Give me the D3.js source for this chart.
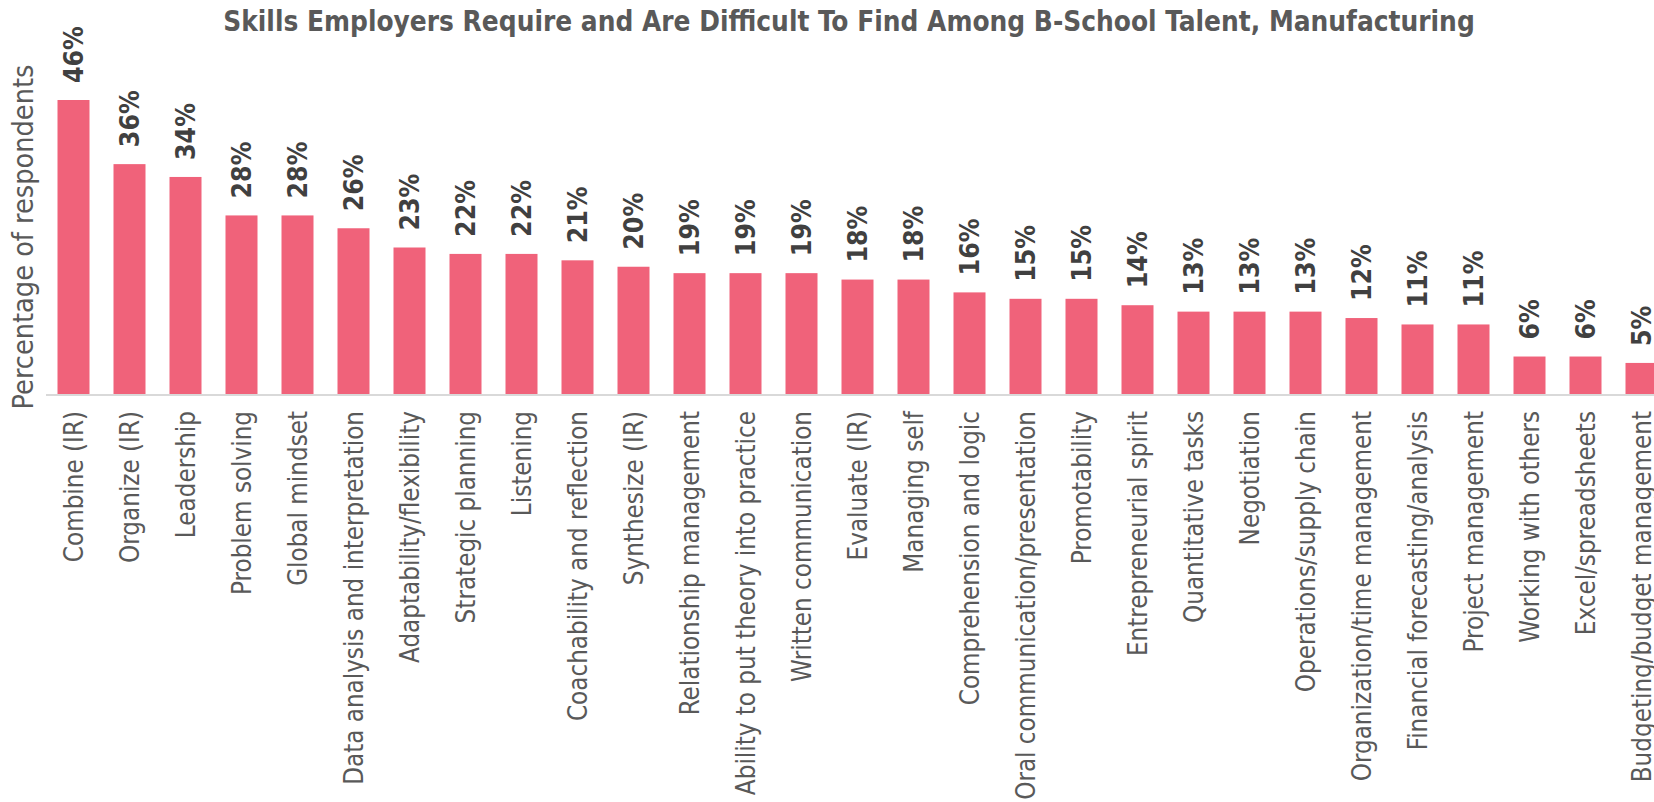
<!DOCTYPE html>
<html>
<head>
<meta charset="utf-8">
<script src="https://cdn.jsdelivr.net/npm/d3@7"></script>
<style>
  html, body { margin: 0; padding: 0; background: #ffffff; }
  svg { display: block; }
  text { font-family: "DejaVu Sans Condensed", "DejaVu Sans", sans-serif; }
</style>
</head>
<body>
<script>
// Skills that manufacturing employers require but find hard to locate among graduates
const skills = [
  "Combine (IR)", "Organize (IR)", "Leadership", "Problem solving", "Global mindset",
  "Data analysis and interpretation", "Adaptability/flexibility", "Strategic planning",
  "Listening", "Coachability and reflection", "Synthesize (IR)", "Relationship management",
  "Ability to put theory into practice", "Written communication", "Evaluate (IR)",
  "Managing self", "Comprehension and logic", "Oral communication/presentation",
  "Promotability", "Entrepreneurial spirit", "Quantitative tasks", "Negotiation",
  "Operations/supply chain", "Organization/time management", "Financial forecasting/analysis",
  "Project management", "Working with others", "Excel/spreadsheets", "Budgeting/budget management"
];
const percentages = [
  46, 36, 34, 28, 28, 26, 23, 22, 22, 21, 20, 19, 19, 19, 18,
  18, 16, 15, 15, 14, 13, 13, 13, 12, 11, 11, 6, 6, 5
];
const titleText = "Skills Employers Require and Are Difficult To Find Among B-School Talent, Manufacturing";
const yTitleText = "Percentage of respondents";

const W = 1654, H = 802;
const baseY = 395;

const svg = d3.select("body").append("svg")
  .attr("width", W).attr("height", H);

const x = d3.scaleBand()
  .domain(skills)
  .range([45.5, 1669.5])
  .paddingInner(0.4286)
  .paddingOuter(0.2143);

const y = d3.scaleLinear()
  .domain([0, 46])
  .range([baseY, 100]);

// scale a text element's font size so that its rendered length hits a target
function fit(sel, target) {
  const base = parseFloat(sel.attr("font-size"));
  const len = sel.node().getComputedTextLength();
  const size = base * target / len;
  sel.attr("font-size", size);
  return size;
}

// bars
svg.append("g").selectAll("rect")
  .data(percentages)
  .join("rect")
  .attr("x", (d, i) => x(skills[i]))
  .attr("width", x.bandwidth())
  .attr("y", d => y(d))
  .attr("height", d => y(0) - y(d))
  .attr("fill", "#F0627A");

// category axis line
const axis = d3.axisBottom(x).tickSize(0).tickFormat("");
const axisG = svg.append("g").attr("transform", `translate(0,${baseY})`).call(axis);
axisG.select(".domain").attr("stroke", "#D9D9D9").attr("stroke-width", 2)
  .attr("d", `M46,0H${W}`);

// category labels
const probe = svg.append("text").attr("font-size", 20).text("Data analysis and interpretation");
const catSize = fit(probe, 374);
probe.remove();

svg.append("g").selectAll("text")
  .data(skills)
  .join("text")
  .attr("transform", d => `translate(${x(d) + x.bandwidth() / 2},411) rotate(-90)`)
  .attr("text-anchor", "end")
  .attr("dy", "0.36em")
  .attr("font-size", catSize)
  .attr("fill", "#595959")
  .text(d => d);

// value labels
const vprobe = svg.append("text").attr("font-size", 20).attr("font-weight", "bold").text("46%");
const valSize = fit(vprobe, 57);
vprobe.remove();

svg.append("g").selectAll("text")
  .data(percentages)
  .join("text")
  .attr("transform", (d, i) => `translate(${x(skills[i]) + x.bandwidth() / 2},${y(d) - 17}) rotate(-90)`)
  .attr("text-anchor", "start")
  .attr("dy", "0.36em")
  .attr("font-size", valSize)
  .attr("font-weight", "bold")
  .attr("fill", "#404040")
  .text(d => d + "%");

// y-axis title
const yt = svg.append("text")
  .attr("transform", "translate(33,237) rotate(-90)")
  .attr("text-anchor", "middle")
  .attr("font-size", 24)
  .attr("fill", "#595959")
  .text(yTitleText);
fit(yt, 345);

// chart title
const tt = svg.append("text")
  .attr("x", 849)
  .attr("y", 31)
  .attr("text-anchor", "middle")
  .attr("font-size", 24)
  .attr("font-weight", "bold")
  .attr("fill", "#595959")
  .text(titleText);
fit(tt, 1252);
</script>
</body>
</html>
